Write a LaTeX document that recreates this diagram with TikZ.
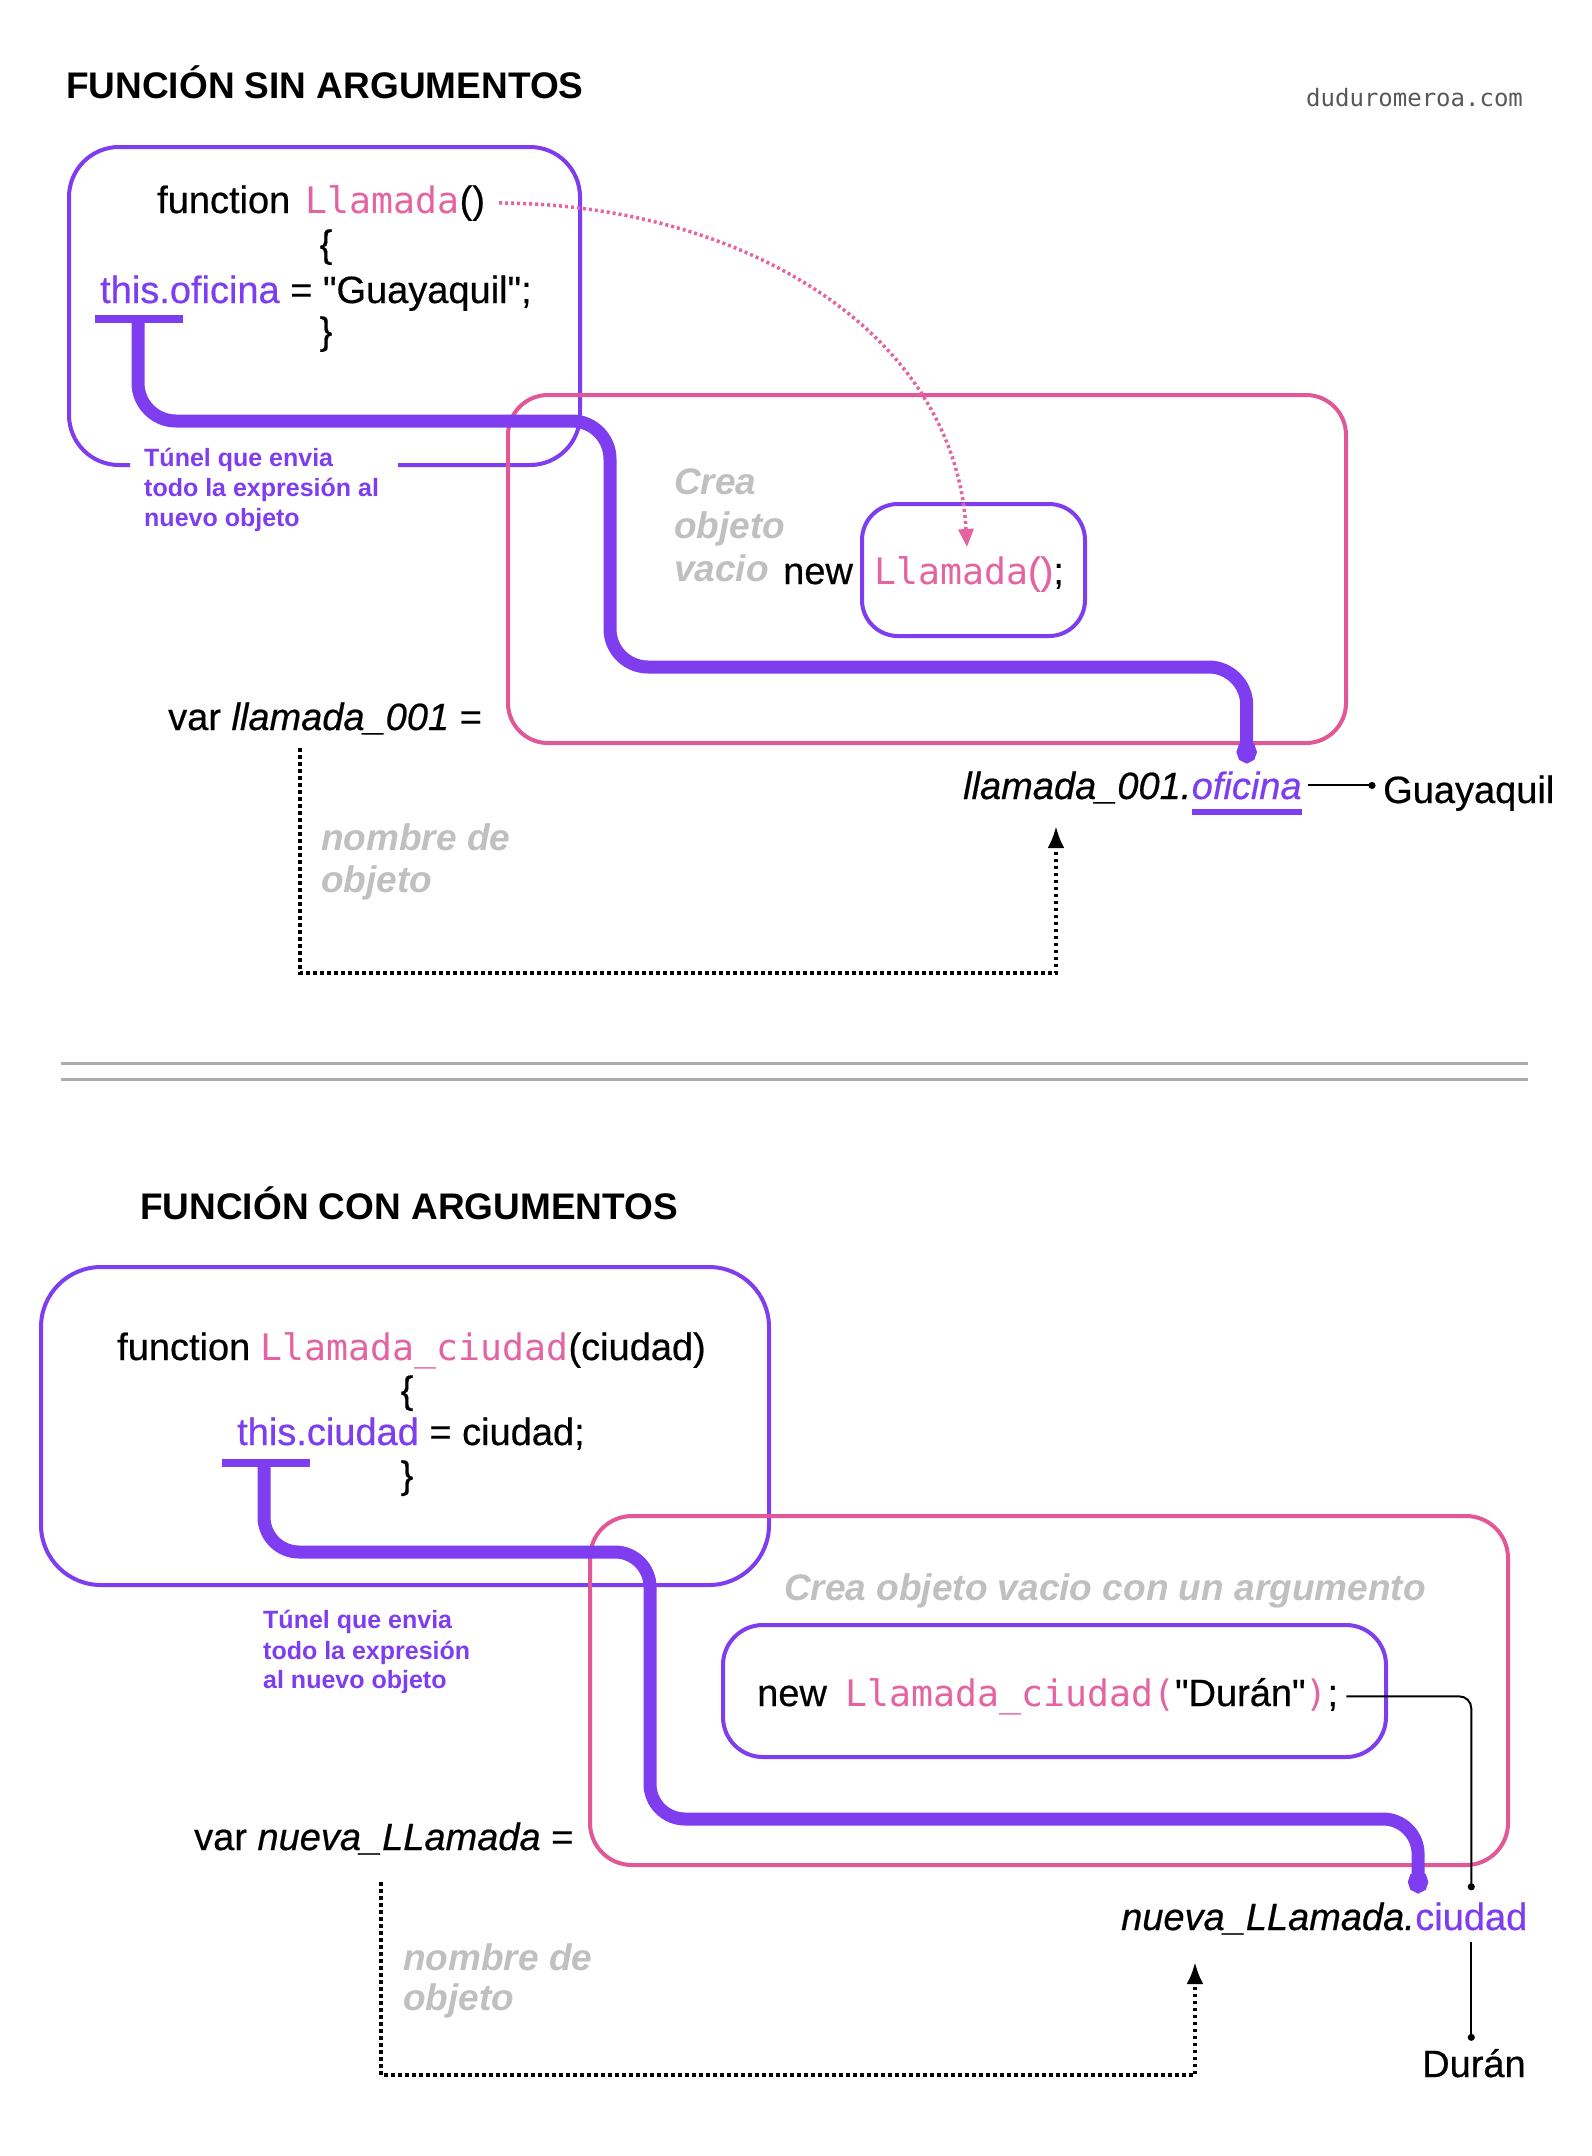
\documentclass[tikz,border=0pt]{standalone}
\usepackage{fontspec}
\setmainfont{Liberation Sans}[Ligatures=TeXOff,UprightFeatures={FakeBold=0.5},ItalicFeatures={FakeBold=0.5}]
\newfontfamily\codefont{DejaVu Sans Mono}
\usetikzlibrary{arrows.meta}
\definecolor{diagcolor0001}{RGB}{127,61,240}
\definecolor{diagcolor0002}{RGB}{226,88,150}
\definecolor{diagcolor0003}{RGB}{228,100,162}
\definecolor{diagcolor0004}{RGB}{192,192,192}
\definecolor{diagcolor0005}{RGB}{88,88,88}
\definecolor{diagcolor0006}{RGB}{172,172,172}
\newcommand{\codetxt}[1]{{\fontsize{36.5}{45}\selectfont\codefont\color{diagcolor0003}#1}}
\newcommand{\proptxt}[1]{{\color{diagcolor0001}#1}}

\begin{document}
\begin{tikzpicture}[x=1pt,y=-1pt
,tstyle0/.style={anchor=base west,inner sep=0,color=black,font=\fontsize{38}{45}\selectfont}
,tstyle1/.style={anchor=base west,inner sep=0,color=black,font=\fontsize{37}{42}\selectfont\bfseries}
,tstyle2/.style={anchor=base west,inner sep=0,color=diagcolor0001,font=\fontsize{25}{30}\selectfont\bfseries}
,tstyle3/.style={anchor=base west,inner sep=0,color=diagcolor0004,font=\fontsize{37}{42}\selectfont\bfseries\itshape}
,tstyle4/.style={anchor=base west,inner sep=0,color=diagcolor0005,font=\fontsize{24}{28}\selectfont\codefont}
,pstyle0/.style={color=diagcolor0001,line width=4pt}
,pstyle1/.style={color=diagcolor0002,line width=4pt,rounded corners=40pt}
,pstyle2/.style={color=diagcolor0001,line width=4pt,rounded corners=36pt}
,pstyle3/.style={color=diagcolor0001,line width=13pt,rounded corners=38pt,-{Circle[length=22pt,width=20pt]}}
,pstyle4/.style={color=diagcolor0001,line width=8pt}
,pstyle5/.style={color=diagcolor0003,line width=3.5pt,dash pattern=on 3pt off 3pt,-{Triangle[length=18pt,width=15pt]}}
,pstyle6/.style={color=black,line width=2pt,-{Circle[length=7pt]}}
,pstyle7/.style={color=black,line width=4pt,dash pattern=on 3.5pt off 3.5pt,-{Latex[length=22pt,width=17pt]}}
,pstyle8/.style={color=diagcolor0006,line width=3pt}
]
\fill[white] (0,0) rectangle (1592,2156);
\useasboundingbox (0,0) rectangle (1592,2156);
% funcion sin argumentos
\node (head1) at (66,98)[tstyle1]{FUNCIÓN SIN ARGUMENTOS};
\node (site) at (1306,106)[tstyle4]{duduromeroa.com};
\draw[pstyle0,rounded corners=50pt] (130,465) -- (69,465) -- (69,147) -- (580,147) -- (580,465) -- (398,465);
\draw[pstyle1] (508,395) rectangle (1346,743);
\draw[pstyle2] (862,504) rectangle (1085,636);
\node (func1) at (157,213)[tstyle0]{function\hspace{5pt} \codetxt{Llamada}()};
\node (open1) at (326,257)[tstyle0,anchor=base]{\{};
\node (this1) at (100,303)[tstyle0]{\proptxt{this.oficina} = "Guayaquil";};
\node (close1) at (326,344)[tstyle0,anchor=base]{\}};
\node (tunel1a) at (144,466)[tstyle2]{Túnel que envia};
\node (tunel1b) at (144,496)[tstyle2]{todo la expresión al};
\node (tunel1c) at (144,526)[tstyle2]{nuevo objeto};
\node (crea1a) at (674,494)[tstyle3]{Crea};
\node (crea1b) at (674,538)[tstyle3]{objeto};
\node (crea1c) at (674,581)[tstyle3]{vacio};
\node (new1) at (783,584)[tstyle0]{new};
\node (call1) at (874,584)[tstyle0]{\codetxt{Llamada}\textcolor{diagcolor0003}{()};};
\node (var1) at (168,730)[tstyle0]{var \textit{llamada\_001} =};
\node (nombre1a) at (321,850)[tstyle3]{nombre de};
\node (nombre1b) at (321,892)[tstyle3]{objeto};
\node (obj1) at (963,799)[tstyle0]{\textit{llamada\_001.}};
\node (ofi1) at (obj1.base east)[tstyle0]{\proptxt{\textit{oficina}}};
\node (guaya1) at (1383,803)[tstyle0]{Guayaquil};
\coordinate (bar1) at ([xshift=38pt,yshift=-16pt]this1.base west);
\coordinate (drop1) at ([yshift=36pt]ofi1.base);
\coordinate (ptr1) at ([xshift=93pt,yshift=37pt]call1.base west);
\coordinate (nm1a) at ([xshift=132pt,yshift=-18pt]var1.base west);
\coordinate (nm1b) at ([xshift=93pt,yshift=-27pt]obj1.base west);
\draw[pstyle4] ([xshift=-43pt]bar1) -- ([xshift=45pt]bar1);
\draw[pstyle4,line width=6pt] ([yshift=-13pt]ofi1.base west) -- ([yshift=-13pt]ofi1.base east);
\draw[pstyle5] ([xshift=14pt]func1.east) .. controls (740,204) and (955,330) .. (ptr1);
\draw[pstyle7] (nm1a) -- ++(0,225) -| (nm1b);
\draw[pstyle6] ([xshift=6pt]ofi1.east) -- ([xshift=-7.5pt]ofi1.east -| guaya1.west);
\draw[pstyle3] (bar1) -- ++(0,102) -- ++(472,0) -- ++(0,246) -| (drop1);
% separador
\draw[pstyle8] (61,1063) -- (1528,1063);
\draw[pstyle8] (61,1079) -- (1528,1079);
% funcion con argumentos
\node (head2) at (140,1219)[tstyle1]{FUNCIÓN CON ARGUMENTOS};
\draw[pstyle0,rounded corners=60pt] (41,1267) rectangle (769,1585);
\draw[pstyle1,rounded corners=42pt] (590,1516) rectangle (1508,1865);
\draw[pstyle2,rounded corners=40pt] (723,1625) rectangle (1386,1757);
\node (func2) at (117,1360)[tstyle0]{function \codetxt{Llamada\_ciudad}(ciudad)};
\node (open2) at (407,1403)[tstyle0,anchor=base]{\{};
\node (this2) at (237,1445)[tstyle0]{\proptxt{this.ciudad} = ciudad;};
\node (close2) at (407,1488)[tstyle0,anchor=base]{\}};
\node (tunel2a) at (263,1628)[tstyle2]{Túnel que envia};
\node (tunel2b) at (263,1659)[tstyle2]{todo la expresión};
\node (tunel2c) at (263,1688)[tstyle2]{al nuevo objeto};
\node (crea2) at (784,1600)[tstyle3]{Crea objeto vacio con un argumento};
\node (call2) at (757,1706)[tstyle0]{new\hspace{8pt} \codetxt{Llamada\_ciudad(}"Durán"\codetxt{)};};
\node (var2) at (194,1850)[tstyle0]{var \textit{nueva\_LLamada} =};
\node (nombre2a) at (403,1970)[tstyle3]{nombre de};
\node (nombre2b) at (403,2010)[tstyle3]{objeto};
\node (obj2) at (1121,1930)[tstyle0]{\textit{nueva\_LLamada.}};
\node (ciudad2) at (obj2.base east)[tstyle0]{\proptxt{ciudad}};
\node (duran2) at (1422,2077)[tstyle0]{Durán};
\coordinate (bar2) at ([xshift=27pt,yshift=-18pt]this2.base west);
\coordinate (drop2) at ([xshift=3pt,yshift=37pt]ciudad2.base west);
\coordinate (nm2a) at ([xshift=187pt,yshift=-32pt]var2.base west);
\coordinate (nm2b) at ([xshift=74pt,yshift=-32pt]obj2.base west);
\draw[pstyle4] ([xshift=-42pt]bar2) -- ([xshift=46pt]bar2);
\draw[pstyle7] (nm2a) -- ++(0,193) -| (nm2b);
\draw[pstyle6,rounded corners=12pt] ([xshift=8pt]call2.east) -| ([yshift=12pt]ciudad2.north);
\draw[pstyle6] ([yshift=-11pt]ciudad2.south) -- ([yshift=8pt]ciudad2.south |- duran2.north);
\draw[pstyle3,rounded corners=35pt] (bar2) -- ++(0,89) -- ++(386,0) -- ++(0,267) -| (drop2);
\end{tikzpicture}
\end{document}
